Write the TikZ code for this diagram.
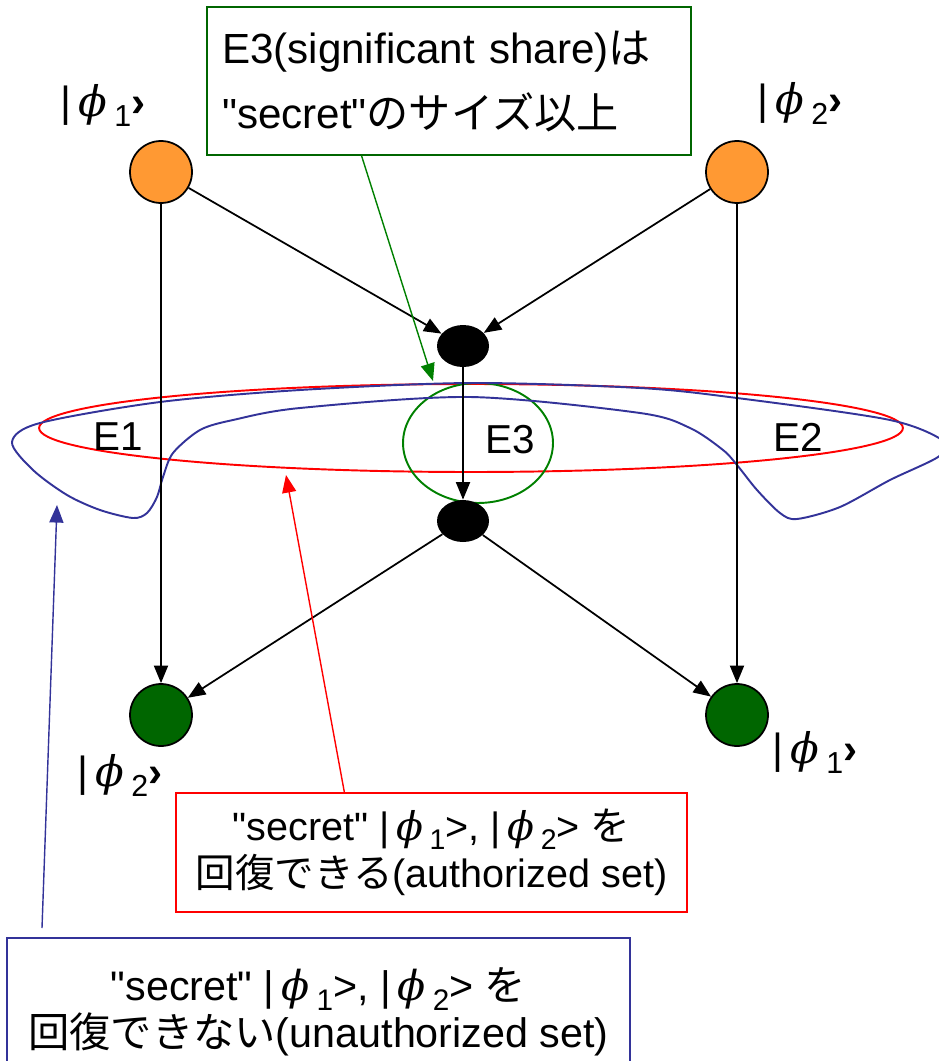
\documentclass[tikz,border=0pt]{standalone}
\usepackage{graphicx}
\usepackage{fontspec}
\setmainfont{Liberation Sans}
\newfontfamily\jp{Noto Sans CJK JP}
\newfontfamily\grk{DejaVu Serif}
\usetikzlibrary{arrows.meta,positioning,calc,shapes.geometric}
\definecolor{qorange}{RGB}{255,153,51}
\definecolor{qgreen}{RGB}{0,102,0}
\definecolor{pgreen}{RGB}{0,128,0}
\definecolor{qblue}{RGB}{51,51,153}
\definecolor{qred}{RGB}{255,0,0}
\newcommand{\phik}[1]{|\,{\grk\itshape ϕ}\,\raisebox{-0.45ex}{\scalebox{0.72}{#1}}}
\newcommand{\sq}{\textquotedbl}

\begin{document}
\begin{tikzpicture}[x=0.02cm,y=-0.02cm,
  every node/.style={font=\fontsize{24}{37}\selectfont},
  arr/.style={-{Triangle[length=10pt,width=8pt]},line width=1pt},
  qubit/.style={circle,draw,line width=1pt,minimum size=1.24cm,inner sep=0pt},
  share/.style={ellipse,fill=black,minimum width=1.04cm,minimum height=0.84cm,inner sep=0pt},
  lbl/.style={font=\fontsize{23}{26}\selectfont},
  setbox/.style={draw,line width=1pt,align=center,font=\fontsize{22.5}{27}\selectfont}]
\useasboundingbox (0,0) rectangle (938,1061);

% sets
\draw[qred,line width=1.1pt] (471,428) ellipse [x radius=8.64cm,y radius=0.88cm];
\draw[pgreen,line width=1.1pt] (478,443) ellipse [x radius=1.5cm,y radius=1.2cm];
\draw[qblue,line width=1.1pt] plot[smooth cycle,tension=0.5] coordinates {
  (470,383) (640,388) (737,398) (890,420) (945,442) (938,457) (890,480) (840,507)
  (797,519) (780,513) (757,490) (737,465) (723,450) (690,428) (640,413) (470,397)
  (300,408) (233,420) (200,430) (173,453) (163,477) (157,497) (147,513) (133,518)
  (100,510) (67,495) (33,470) (12,442) (40,423) (160,402) (300,390)};
\node[lbl] (e1) at (118,437) {E1};
\node[lbl] (e3) at (510,440) {E3};
\node[lbl] (e2) at (798,437) {E2};

% qubits and shares
\node[qubit,fill=qorange] (in1) at (161,172) {};
\node[qubit,fill=qorange] (in2) at (737,172) {};
\node[qubit,fill=qgreen] (out1) at (161,715) {};
\node[qubit,fill=qgreen] (out2) at (737,715) {};
\node[share] (top) at (463,346) {};
\node[share] (bot) at (463,521) {};
\node (kin1) at (103,105) {\phik{1}\textbf{›}};
\node (kin2) at (800,103) {\phik{2}\textbf{›}};
\node (kout1) at (120,775) {\phik{2}\textbf{›}};
\node (kout2) at (815,752) {\phik{1}\textbf{›}};

\draw[arr] (in1) -- (out1);
\draw[arr] (in1) -- (top);
\draw[arr] (in2) -- (top);
\draw[arr] (in2) -- (out2);
\draw[arr] (top) -- (bot);
\draw[arr] (bot) -- (out1);
\draw[arr] (bot) -- (out2);

% notes
\node[draw=qgreen,line width=1pt,minimum width=9.68cm,minimum height=2.96cm,
  text width=9.08cm,align=left] (sig) at (449,81)
  {E3(significant share){\jp は}\\\sq secret\sq{\jp のサイズ以上}};
\node[setbox,draw=qred,minimum width=10.22cm,minimum height=2.38cm] (auth) at (431.5,852.5)
  {\sq secret\sq{} \phik{1}>, \phik{2}> {\jp を}\\{\jp 回復できる}(authorized set)};
\node[setbox,draw=qblue,minimum width=12.46cm,minimum height=2.96cm,
  font=\fontsize{23.5}{27}\selectfont] (unauth) at (318.5,1012)
  {\sq secret\sq{} \phik{1}>, \phik{2}> {\jp を}\\{\jp 回復できない}(unauthorized set)};

\coordinate (gtip) at (433,381);
\coordinate (rtip) at (286,475);
\coordinate (btail) at (42,928);
\coordinate (btip) at (57,505);
\draw[arr,pgreen,line width=0.8pt] ($(sig.south west)!0.32!(sig.south east)$) -- (gtip);
\draw[arr,qred,line width=0.8pt] ($(auth.north west)!0.33!(auth.north east)$) -- (rtip);
\draw[arr,qblue,line width=0.8pt] (btail) -- (btip);
\end{tikzpicture}
\end{document}
